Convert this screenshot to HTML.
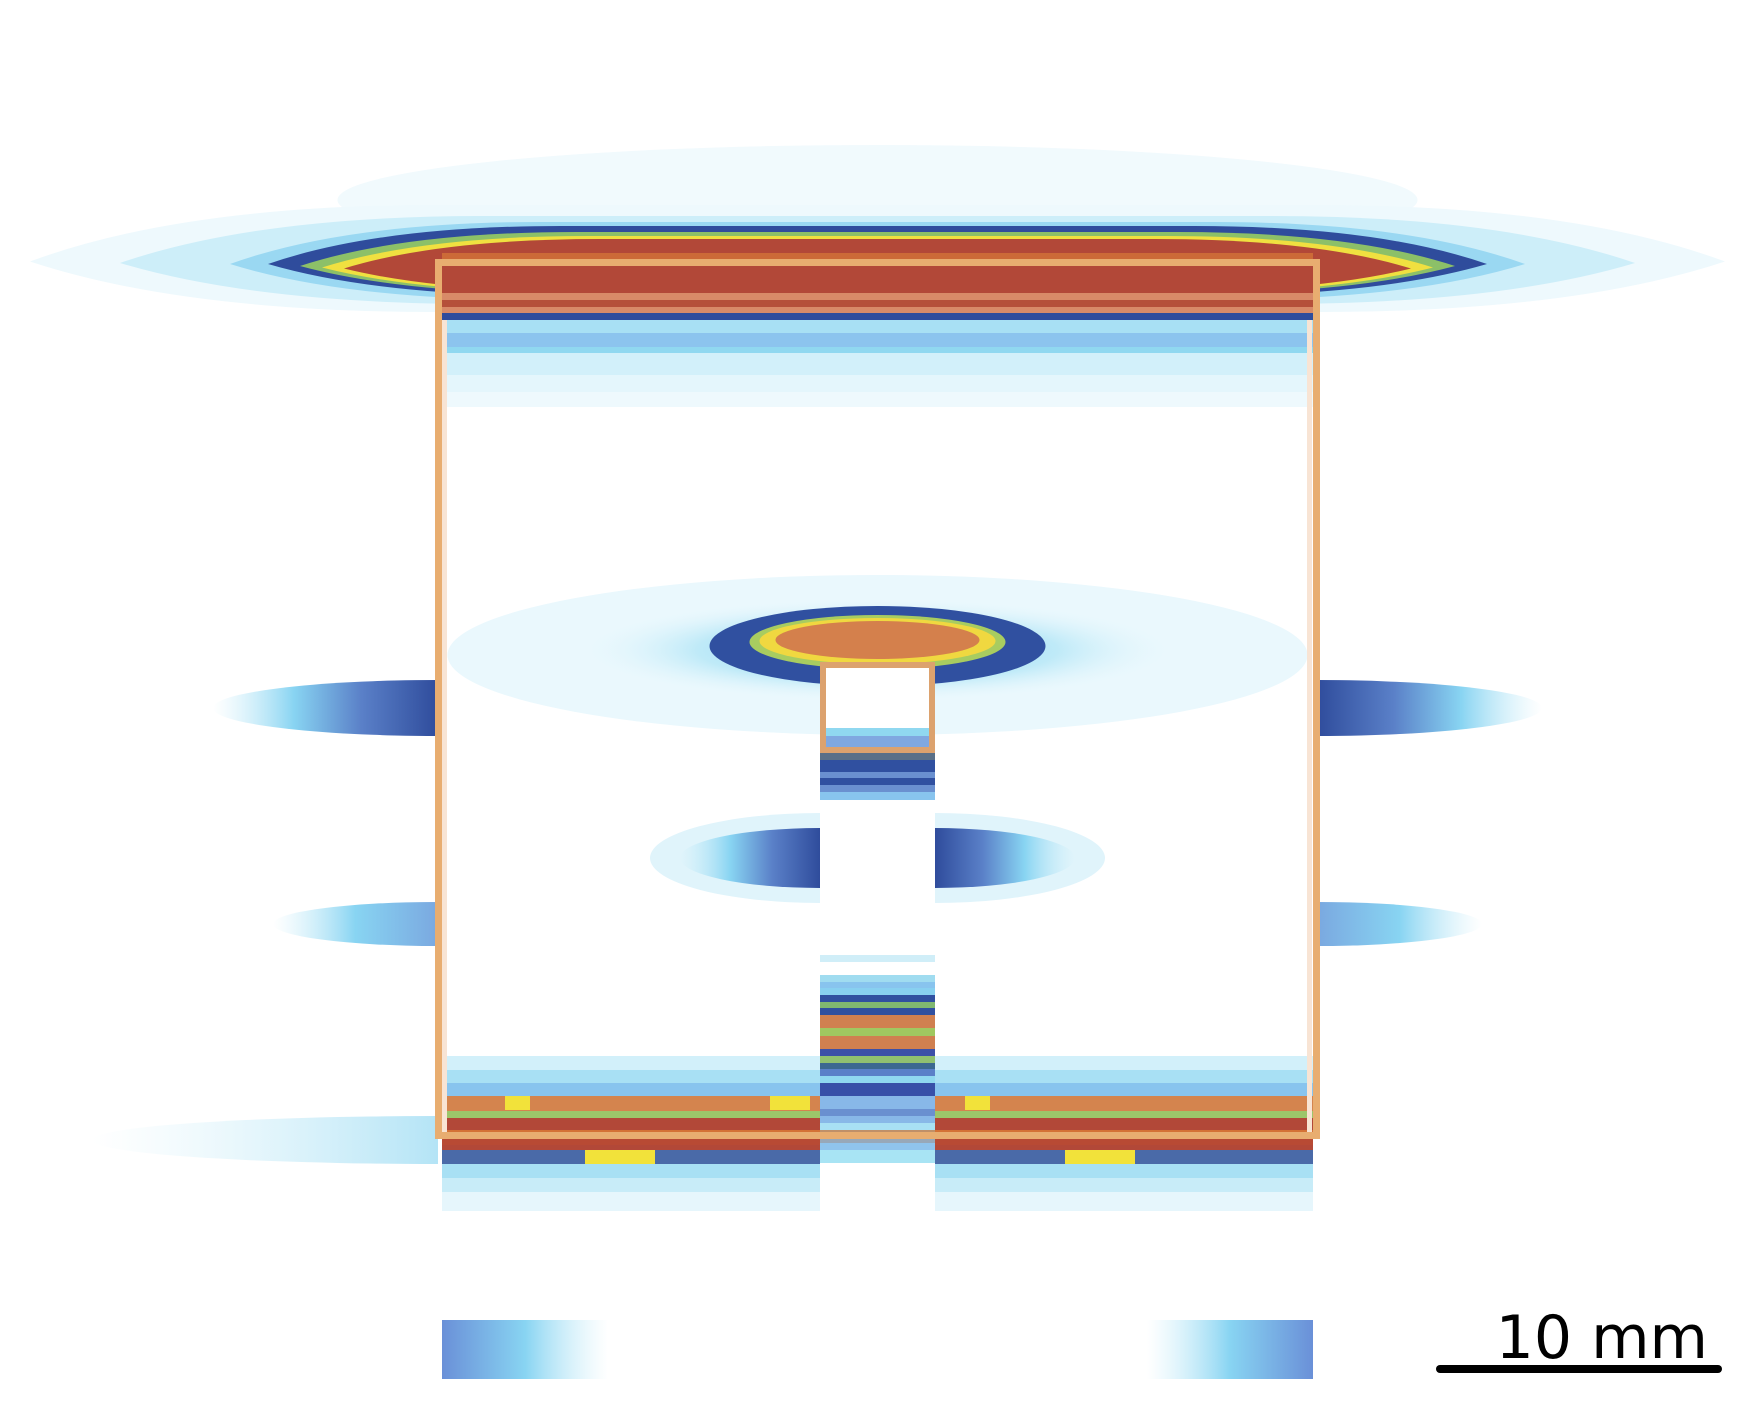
<!DOCTYPE html>
<html><head><meta charset="utf-8"><style>
html,body{margin:0;padding:0;background:#fff;}
svg{display:block;}
</style></head><body>
<svg id="fig" width="1747" height="1410" viewBox="0 0 1747 1410" xmlns="http://www.w3.org/2000/svg">
<defs>
<linearGradient id="fadeL" x1="0" x2="1" y1="0" y2="0"><stop offset="0" stop-color="#bfeaf8" stop-opacity="0"/><stop offset="0.5" stop-color="#88d4f2"/><stop offset="1" stop-color="#6a90d8"/></linearGradient>
<linearGradient id="fadeR" x1="1" x2="0" y1="0" y2="0"><stop offset="0" stop-color="#bfeaf8" stop-opacity="0"/><stop offset="0.5" stop-color="#88d4f2"/><stop offset="1" stop-color="#6a90d8"/></linearGradient>
<linearGradient id="fadeLh" x1="0" x2="1" y1="0" y2="0"><stop offset="0" stop-color="#bfeaf8" stop-opacity="0"/><stop offset="0.25" stop-color="#88d4f2"/><stop offset="0.5" stop-color="#7aa8e0"/><stop offset="1" stop-color="#7aa8e0"/></linearGradient>
<linearGradient id="fadeRh" x1="1" x2="0" y1="0" y2="0"><stop offset="0" stop-color="#bfeaf8" stop-opacity="0"/><stop offset="0.25" stop-color="#88d4f2"/><stop offset="0.5" stop-color="#7aa8e0"/><stop offset="1" stop-color="#7aa8e0"/></linearGradient>
<linearGradient id="darkLh" x1="0" x2="1" y1="0" y2="0"><stop offset="0" stop-color="#bfeaf8" stop-opacity="0"/><stop offset="0.18" stop-color="#88d4f2"/><stop offset="0.33" stop-color="#5a80c8"/><stop offset="0.5" stop-color="#2f4c9c"/><stop offset="1" stop-color="#2f4c9c"/></linearGradient>
<linearGradient id="darkRh" x1="1" x2="0" y1="0" y2="0"><stop offset="0" stop-color="#bfeaf8" stop-opacity="0"/><stop offset="0.18" stop-color="#88d4f2"/><stop offset="0.33" stop-color="#5a80c8"/><stop offset="0.5" stop-color="#2f4c9c"/><stop offset="1" stop-color="#2f4c9c"/></linearGradient>
<linearGradient id="paleLh" x1="0" x2="1" y1="0" y2="0"><stop offset="0" stop-color="#d8f2fa" stop-opacity="0"/><stop offset="0.5" stop-color="#b4e4f6"/><stop offset="1" stop-color="#b4e4f6"/></linearGradient>
<radialGradient id="halo" cx="0.5" cy="0.5" r="0.5"><stop offset="0" stop-color="#88d4f2"/><stop offset="0.6" stop-color="#bfeaf8"/><stop offset="1" stop-color="#eaf8fd" stop-opacity="0"/></radialGradient>
<clipPath id="outL"><rect x="0" y="0" width="438" height="1410"/></clipPath>
<clipPath id="outR"><rect x="1317" y="0" width="430" height="1410"/></clipPath>
<clipPath id="colL"><rect x="0" y="0" width="820" height="1410"/></clipPath>
<clipPath id="colR"><rect x="935" y="0" width="812" height="1410"/></clipPath>
</defs>
<g id="layer"></g>
<g>
<line x1="1440" y1="1369" x2="1718" y2="1369" stroke="#000" stroke-width="8" stroke-linecap="round"/>
<text x="1708" y="1358" text-anchor="end" font-family="DejaVu Sans, Liberation Sans, sans-serif" font-size="60" fill="#000">10 mm</text>
</g>
</svg>
<script>
// Top lens layers: tip x (left), top y, bottom y, colour
const lensTip = [30, 120, 230, 268, 300, 322, 344];
const lensTop = [205, 216, 222, 226, 232, 236, 239];
const lensBot = [312, 304, 300, 296, 294, 293, 292];
const lensC   = ['#eef9fd','#cdeef9','#9ad8f2','#2f4c9c','#8cc068','#f0e040','#b24838'];
// Top band stripes (inside the box)
const topRowsY0 = [253,266,293,300,307,313,320,333,347,353,375,392];
const topRowsY1 = [266,293,300,307,313,320,333,347,353,375,392,407];
const topRowsC  = ['#cc6a38','#b24838','#d88a68','#b5503a','#d88a68','#2f4c9c','#a8e0f4','#8cc4ee','#90d8f0','#d2f0fa','#e4f6fc','#eef9fd'];
// Bottom band stripes
const botRowsY0 = [1056,1070,1083,1096,1111,1118,1130,1137,1145,1150,1164,1178,1192];
const botRowsY1 = [1070,1083,1096,1111,1118,1130,1137,1145,1150,1164,1178,1192,1211];
const botRowsC  = ['#d2f0fa','#a8e0f4','#88c4ee','#d4844e','#9cc66a','#b24838','#d47236','#b84a34','#b24838','#4a6aa8','#a8e0f4','#c8ecf8','#e6f6fc'];
// Central column stripes
const colRowsY0 = [752,760,772,778,785,792, 955,975,982,988,995,1002,1008,1015,1028,1036,1049,1056,1063,1069,1076,1083,1096,1109,1116,1123,1130,1137,1143,1150];
const colRowsY1 = [760,772,778,785,792,800, 962,982,988,995,1002,1008,1015,1028,1036,1049,1056,1063,1069,1076,1083,1096,1109,1116,1123,1130,1137,1143,1150,1163];
const colRowsC  = ['#5a7088','#3050a0','#6a90d0','#3050a0','#6a90d0','#88c4ee', '#d0eef8','#a0dcf0','#88c4ee','#88d0f0','#3050a0','#80b870','#3050a0','#d08050','#a0c860','#d08050','#3c50a8','#90c070','#3c6890','#5a80c8','#90d8f0','#3850a8','#88b8e8','#6a90d0','#88b8e8','#a8e0f4','#c09068','#98a8b8','#90c4ec','#a8e4f4'];

const NS='http://www.w3.org/2000/svg';
const layer=document.getElementById('layer');
const CX=877.5;
function mk(tag,attrs){const e=document.createElementNS(NS,tag);for(const k in attrs)e.setAttribute(k,attrs[k]);layer.appendChild(e);return e;}

let e;
e=mk('ellipse',{cx:CX,cy:200,rx:540,ry:55,fill:'#f1fafd'});


for(let i=0;i<lensC.length;i++){
  const tl=lensTip[i], tr=2*CX-tl, t=lensTop[i], b=lensBot[i], mid=(t+b)/2+3;
  const w=(CX-tl)*0.3;
  const d=`M${tl},${mid} Q${tl+w*0.6},${t} ${tl+w*1.6},${t} L${tr-w*1.6},${t} Q${tr-w*0.6},${t} ${tr},${mid} Q${tr-w*0.6},${b} ${tr-w*1.6},${b} L${tl+w*1.6},${b} Q${tl+w*0.6},${b} ${tl},${mid} Z`;
  e=mk('path',{d:d,fill:lensC[i]});
  
  
}

for(let i=0;i<topRowsC.length;i++){
  e=mk('rect',{x:442,y:topRowsY0[i],width:871,height:topRowsY1[i]-topRowsY0[i],fill:topRowsC[i]});
  
  
}

// middle ring
e=mk('ellipse',{cx:CX,cy:655,rx:430,ry:80,fill:'#eaf8fd'});


e=mk('ellipse',{cx:CX,cy:650,rx:300,ry:52,fill:'url(#halo)'});


e=mk('ellipse',{cx:CX,cy:646,rx:168,ry:40,fill:'#3050a0'});


e=mk('ellipse',{cx:CX,cy:642,rx:128,ry:27,fill:'#a8cc60'});


e=mk('ellipse',{cx:CX,cy:641,rx:118,ry:23,fill:'#f0d840'});


e=mk('ellipse',{cx:CX,cy:640,rx:102,ry:19,fill:'#d4804c'});



// side lobes (ellipses clipped to outside of box)
const sideY=[708,924], sideRy=[28,22], sideReach=[225,165];
for(let i=0;i<2;i++){
  e=mk('ellipse',{cx:438,cy:sideY[i],rx:sideReach[i],ry:sideRy[i],fill:i?'url(#fadeLh)':'url(#darkLh)','clip-path':'url(#outL)'});
  
  
  e=mk('ellipse',{cx:1317,cy:sideY[i],rx:sideReach[i],ry:sideRy[i],fill:i?'url(#fadeRh)':'url(#darkRh)','clip-path':'url(#outR)'});
  
  
}
// inner lobes next to column
e=mk('ellipse',{cx:820,cy:858,rx:170,ry:45,fill:'#e0f4fb','clip-path':'url(#colL)'});


e=mk('ellipse',{cx:935,cy:858,rx:170,ry:45,fill:'#e0f4fb','clip-path':'url(#colR)'});


e=mk('ellipse',{cx:820,cy:858,rx:140,ry:30,fill:'url(#darkLh)','clip-path':'url(#colL)'});


e=mk('ellipse',{cx:935,cy:858,rx:140,ry:30,fill:'url(#darkRh)','clip-path':'url(#colR)'});



// bottom band
e=mk('ellipse',{cx:438,cy:1140,rx:346,ry:24,fill:'url(#paleLh)','clip-path':'url(#outL)'});


for(let i=0;i<botRowsC.length;i++){
  e=mk('rect',{x:442,y:botRowsY0[i],width:378,height:botRowsY1[i]-botRowsY0[i],fill:botRowsC[i]});
  
  
  e=mk('rect',{x:935,y:botRowsY0[i],width:378,height:botRowsY1[i]-botRowsY0[i],fill:botRowsC[i]});
  
  
}
// yellow highlights on bottom band
const yelX=[505,585,935+30,935+130,770];
const yelW=[25,70,25,70,40];
const yelY=[1096,1150,1096,1150,1096];
for(let i=0;i<yelX.length;i++){
  e=mk('rect',{x:yelX[i],y:yelY[i],width:yelW[i],height:14,fill:'#f2e23a'});
  
  
}

// central column (white gap then stripes)
e=mk('rect',{x:820,y:752,width:115,height:460,fill:'#ffffff'});


for(let i=0;i<colRowsC.length;i++){
  e=mk('rect',{x:820,y:colRowsY0[i],width:115,height:colRowsY1[i]-colRowsY0[i],fill:colRowsC[i]});
  
  
}

// inner small box
e=mk('rect',{x:823,y:665,width:109,height:85,fill:'#ffffff',stroke:'#dca26e','stroke-width':6});


e=mk('rect',{x:826,y:728,width:103,height:8,fill:'#90d8f0'});


e=mk('rect',{x:826,y:736,width:103,height:11,fill:'#80a8e0'});



// bottom blobs
e=mk('rect',{x:442,y:1320,width:166,height:59,fill:'url(#fadeR)'});


e=mk('rect',{x:1147,y:1320,width:166,height:59,fill:'url(#fadeL)'});



// outer box outline
e=mk('rect',{x:438.5,y:262.5,width:878,height:873,fill:'none',stroke:'#e8ad70','stroke-width':7});


e=mk('line',{x1:444.5,y1:320,x2:444.5,y2:1132,stroke:'#f8e4d4','stroke-width':5});


e=mk('line',{x1:1309.5,y1:320,x2:1309.5,y2:1132,stroke:'#f8e4d4','stroke-width':5});


</script>
</body></html>
